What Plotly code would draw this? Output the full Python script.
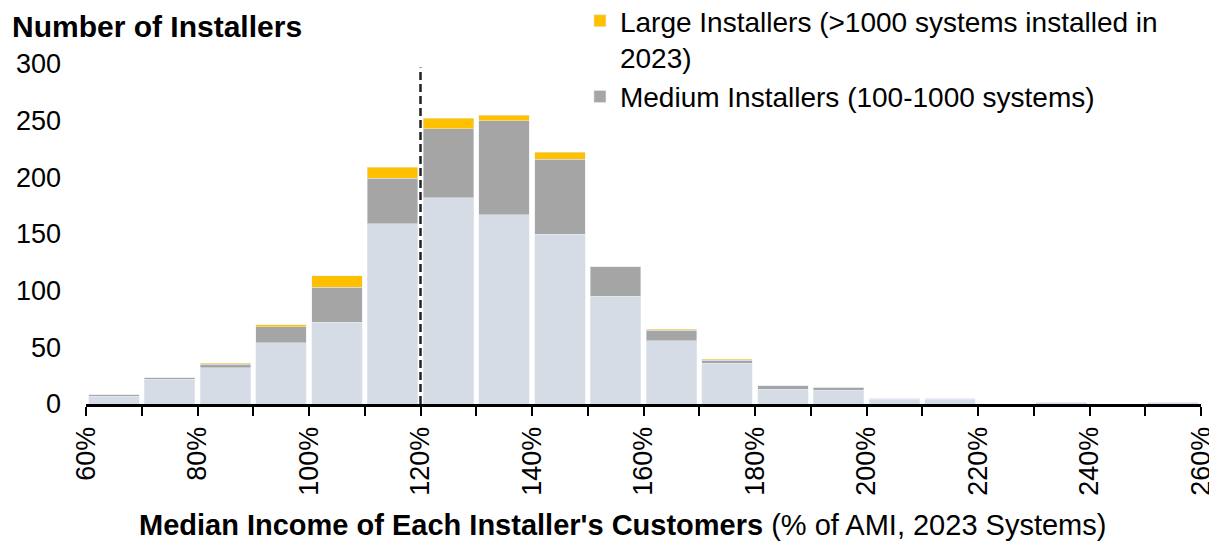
import plotly.graph_objects as go

bin_starts = [60, 70, 80, 90, 100, 110, 120, 130, 140, 150, 160, 170, 180, 190, 200, 210, 220, 230, 240, 250]
small = [7, 22, 32, 54, 72, 159, 182, 167, 150, 95, 56, 36, 13, 12, 4, 4, 0, 1.5, 0, 1.5]
medium = [1, 1, 3, 14, 31, 40, 61, 83, 66, 26, 9, 2.5, 3, 3, 0.5, 0.5, 0, 0, 0, 0]
large = [0, 0, 1, 2, 10, 10, 9, 5, 6, 0, 1, 1, 0, 0, 0, 0, 0, 0, 0, 0]
tick_vals = [60, 80, 100, 120, 140, 160, 180, 200, 220, 240, 260]
tick_labels = ["60%", "80%", "100%", "120%", "140%", "160%", "180%", "200%", "220%", "240%", "260%"]
ami_reference = 120

centers = [b + 5 for b in bin_starts]
FONT = "Liberation Sans, Arial, sans-serif"

# page has an 8px body margin, so the figure is sized to fit inside the window
W, H = 1209, 539
L, R, T, B = 78, 16, 56, 143
PW, PH = W - L - R, H - T - B

fig = go.Figure()
fig.add_trace(go.Bar(x=centers, y=small, name="Small Installers", marker_color="#D6DCE5",
                     showlegend=False, width=9.1))
fig.add_trace(go.Bar(x=centers, y=medium, name="Medium Installers (100-1000 systems)",
                     marker_color="#A5A5A5", width=9.1))
fig.add_trace(go.Bar(x=centers, y=large, name="Large Installers (>1000 systems installed in<br>2023)",
                     marker_color="#FFC000", width=9.1))

fig.add_shape(type="line", x0=ami_reference, x1=ami_reference, y0=0, y1=297,
              xref="x", yref="y", line=dict(color="#222222", width=2.5, dash="8px,4px"))

all_ticks = list(range(60, 261, 10))
label_map = dict(zip(tick_vals, tick_labels))
all_text = [label_map.get(v, "") for v in all_ticks]

fig.update_layout(
    width=W, height=H,
    barmode="stack",
    plot_bgcolor="white", paper_bgcolor="white",
    margin=dict(l=L, r=R, t=T, b=B, autoexpand=False),
    font=dict(family=FONT, size=27, color="#000000"),
    xaxis=dict(range=[60, 260], tickvals=all_ticks, ticktext=all_text, tickangle=-90,
               showline=True, linecolor="black", linewidth=3, ticks="outside", ticklen=9,
               tickwidth=2, tickcolor="black", showgrid=False, zeroline=False,
               tickfont=dict(size=27), automargin=False),
    yaxis=dict(range=[0, 300], dtick=50, showgrid=False, zeroline=False, showline=False,
               ticks="", tickfont=dict(size=27), ticklabelstandoff=24, automargin=False),
    legend=dict(x=0.443, y=1 + 68 / PH, xanchor="left", yanchor="top", traceorder="reversed",
                valign="top", font=dict(size=28), itemwidth=30, tracegroupgap=0,
                bgcolor="rgba(0,0,0,0)"),
    annotations=[
        dict(text="<b>Number of Installers</b>", xref="paper", yref="paper",
             x=-(L - 2) / PW, y=1 + (T - 19) / PH, xanchor="left", yanchor="middle",
             showarrow=False, font=dict(size=30)),
        dict(text="<b>Median Income of Each Installer's Customers</b> (% of AMI, 2023 Systems)",
             xref="paper", yref="paper", x=(614 - L) / PW, y=-(517 - (H - B)) / PH,
             xanchor="center", yanchor="middle", showarrow=False, font=dict(size=29)),
    ],
)

fig.write_html("out.html")
